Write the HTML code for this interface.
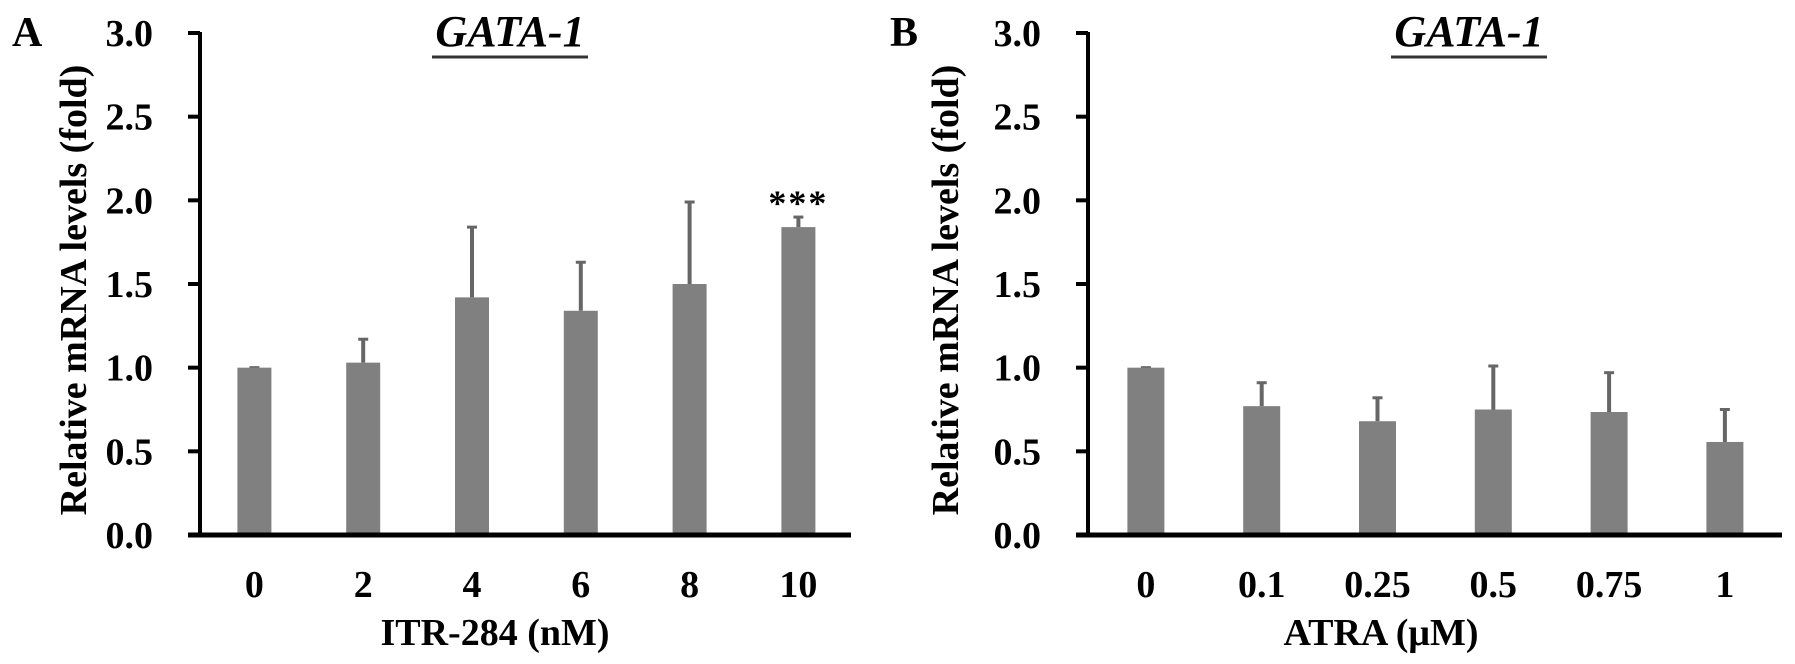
<!DOCTYPE html>
<html><head><meta charset="utf-8"><style>
html,body{margin:0;padding:0;background:#fff;}
svg{display:block;font-family:"Liberation Serif",serif;font-weight:bold;}
</style></head><body>
<svg id="chart" width="1795" height="664" viewBox="0 0 1795 664" xmlns="http://www.w3.org/2000/svg"></svg>
<script>
const catsA = ["0","2","4","6","8","10"];
const valsA = [1.0, 1.03, 1.42, 1.34, 1.50, 1.84];
const errA = [1.0, 1.17, 1.84, 1.63, 1.99, 1.90];
const catsB = ["0","0.1","0.25","0.5","0.75","1"];
const valsB = [1.0, 0.77, 0.68, 0.75, 0.735, 0.556];
const errB = [1.0, 0.91, 0.82, 1.01, 0.97, 0.75];
const yTicks = [0, 0.5, 1.0, 1.5, 2.0, 2.5, 3.0];
const yTickLabels = ["0.0","0.5","1.0","1.5","2.0","2.5","3.0"];
const sigA = ["","","","","","***"];

const NS = "http://www.w3.org/2000/svg";
const svg = document.getElementById("chart");
function mk(tag, attrs, parent) {
  const e = document.createElementNS(NS, tag);
  for (const k in attrs) e.setAttribute(k, attrs[k]);
  (parent || svg).appendChild(e);
  return e;
}
function panel(cfg) {
  const g = mk("g", {});
  
  
  const y0 = 535, y3 = 33;
  const yS = v => y0 - (v / 3) * (y0 - y3);
  const xS = i => cfg.x0 + cfg.step * (i + 0.5);
  cfg.vals.forEach((v, i) => {
    const cx = xS(i);
    const eb = mk("line", {x1: cx, x2: cx, y1: yS(v), y2: yS(cfg.err[i]), stroke: "#666", "stroke-width": 4}, g);
    
    
    const cap = mk("line", {x1: cx - 5, x2: cx + 5, y1: yS(cfg.err[i]), y2: yS(cfg.err[i]), stroke: "#666", "stroke-width": 3}, g);
    
    
    const r = mk("rect", {x: cx - cfg.bw / 2, y: yS(v), width: cfg.bw, height: y0 - yS(v), fill: "#808080"}, g);
    
    
    const t = mk("text", {x: cx, y: 597, "font-size": 38, "text-anchor": "middle"}, g);
    t.textContent = cfg.cats[i];
    
    
    if (cfg.sig && cfg.sig[i]) {
      const s = mk("text", {x: cx, y: yS(cfg.err[i]) - 2, "font-size": 36, "text-anchor": "middle", "letter-spacing": "2"}, g);
      s.textContent = cfg.sig[i];
      
      
    }
  });
  const ya = mk("line", {x1: cfg.x0, x2: cfg.x0, y1: y3 - 1, y2: y0 + 2, stroke: "#000", "stroke-width": 4}, g);
  
  
  const xa = mk("line", {x1: cfg.x0 - 12, x2: cfg.xEnd, y1: y0, y2: y0, stroke: "#000", "stroke-width": 5}, g);
  
  
  yTicks.forEach((v, i) => {
    const tk = mk("line", {x1: cfg.x0 - 12, x2: cfg.x0, y1: yS(v), y2: yS(v), stroke: "#000", "stroke-width": 4}, g);
    
    
    const t = mk("text", {x: cfg.x0 - 47, y: yS(v) + 13, "font-size": 38, "text-anchor": "end"}, g);
    t.textContent = yTickLabels[i];
    
    
  });
  const yt = mk("text", {x: 0, y: 0, "font-size": 38, "text-anchor": "middle", transform: `translate(${cfg.ytx},${290}) rotate(-90)`}, g);
  yt.textContent = "Relative mRNA levels (fold)";
  
  
  const xt = mk("text", {x: cfg.xtx, y: 645, "font-size": 38, "text-anchor": "middle"}, g);
  xt.textContent = cfg.xTitle;
  
  
  const tt = mk("text", {x: cfg.ttx, y: 46, "font-size": 44, "font-style": "italic", "text-anchor": "middle"}, g);
  tt.textContent = "GATA-1";
  
  
  const ul = mk("line", {x1: cfg.ttx - 78, x2: cfg.ttx + 78, y1: 57, y2: 57, stroke: "#333", "stroke-width": 3}, g);
  
  
  const pl = mk("text", {x: cfg.plx, y: 46, "font-size": 42}, g);
  pl.textContent = cfg.letter;
  
  
}
panel({name: "panel-a", cats: catsA, vals: valsA, err: errA, sig: sigA, x0: 200, xEnd: 851, step: 108.8, bw: 34,
  ytx: 86, xtx: 495, xTitle: "ITR-284 (nM)", ttx: 510, plx: 12, letter: "A"});
panel({name: "panel-b", cats: catsB, vals: valsB, err: errB, sig: null, x0: 1088, xEnd: 1782, step: 115.8, bw: 37,
  ytx: 958, xtx: 1381, xTitle: "ATRA (\u03bcM)", ttx: 1469, plx: 890, letter: "B"});
</script>
</body></html>
